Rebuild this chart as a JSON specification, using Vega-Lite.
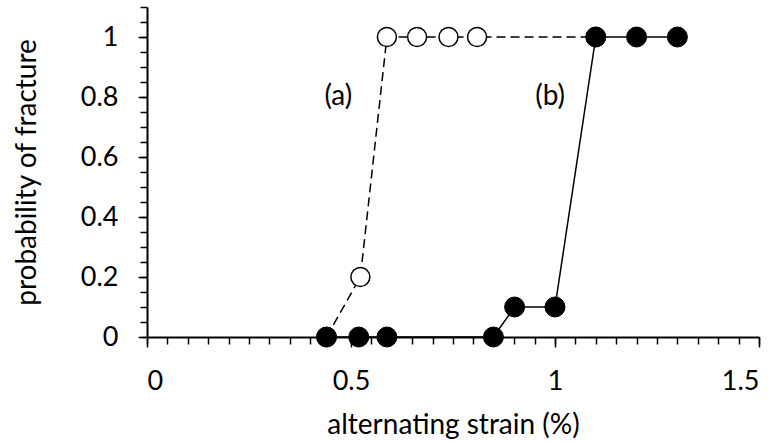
{
  "$schema": "https://vega.github.io/schema/vega-lite/v6.json",
  "autosize": "none",
  "width": 612,
  "height": 330,
  "padding": {"left": 147, "top": 7, "right": 23, "bottom": 105},
  "background": "white",
  "config": {
    "view": {"stroke": null},
    "axis": {
      "grid": false,
      "labelFont": "Lato",
      "labelFontSize": 27,
      "labelColor": "black",
      "titleFont": "Lato",
      "titleFontSize": 28,
      "titleFontWeight": "normal",
      "titleColor": "black",
      "domainColor": "black",
      "tickColor": "black",
      "domainWidth": 2,
      "tickWidth": 1.5
    }
  },
  "datasets": {
    "pts": [
      {"strain": 0.44, "prob": 0, "series": "a"},
      {"strain": 0.523, "prob": 0.2, "series": "a"},
      {"strain": 0.588, "prob": 1, "series": "a"},
      {"strain": 0.662, "prob": 1, "series": "a"},
      {"strain": 0.739, "prob": 1, "series": "a"},
      {"strain": 0.809, "prob": 1, "series": "a"},
      {"strain": 1.1, "prob": 1, "series": "a"},
      {"strain": 0.44, "prob": 0, "series": "b"},
      {"strain": 0.519, "prob": 0, "series": "b"},
      {"strain": 0.588, "prob": 0, "series": "b"},
      {"strain": 0.849, "prob": 0, "series": "b"},
      {"strain": 0.901, "prob": 0.1, "series": "b"},
      {"strain": 1.0, "prob": 0.1, "series": "b"},
      {"strain": 1.1, "prob": 1, "series": "b"},
      {"strain": 1.2, "prob": 1, "series": "b"},
      {"strain": 1.3, "prob": 1, "series": "b"}
    ],
    "labels": [
      {"strain": 0.469, "prob": 0.8, "label": "(a)"},
      {"strain": 0.988, "prob": 0.8, "label": "(b)"}
    ]
  },
  "layer": [
    {
      "data": {"name": "pts"},
      "transform": [{"filter": "datum.series === 'a'"}],
      "mark": {"type": "line", "color": "black", "strokeWidth": 1.5, "strokeDash": [9, 5]},
      "encoding": {
        "x": {"field": "strain", "type": "quantitative",
              "scale": {"domain": [0, 1.5], "nice": false, "zero": false},
              "axis": {"orient": "bottom", "values": [0,0.05,0.1,0.15,0.2,0.25,0.3,0.35,0.4,0.45,0.5,0.55,0.6,0.65,0.7,0.75,0.8,0.85,0.9,0.95,1,1.05,1.1,1.15,1.2,1.25,1.3,1.35,1.4,1.45,1.5],
                       "labels": false, "title": null, "tickSize": 7, "domain": true}},
        "y": {"field": "prob", "type": "quantitative",
              "scale": {"domain": [0, 1.1], "nice": false, "zero": false},
              "axis": {"orient": "left", "values": [0,0.05,0.1,0.15,0.2,0.25,0.3,0.35,0.4,0.45,0.5,0.55,0.6,0.65,0.7,0.75,0.8,0.85,0.9,0.95,1,1.05,1.1],
                       "labels": false, "title": null, "tickSize": 7, "domain": true}}
      }
    },
    {
      "data": {"name": "pts"},
      "transform": [{"filter": "datum.series === 'b'"}],
      "mark": {"type": "line", "color": "black", "strokeWidth": 1.5},
      "encoding": {
        "x": {"field": "strain", "type": "quantitative",
              "axis": {"orient": "bottom", "values": [0, 0.5, 1, 1.5], "format": "~g",
                       "tickSize": 10, "labelPadding": 21, "domain": false,
                       "title": "alternating strain (%)", "titleY": 88, "titleBaseline": "middle", "titleX": 306}},
        "y": {"field": "prob", "type": "quantitative",
              "axis": {"orient": "left", "values": [0, 0.2, 0.4, 0.6, 0.8, 1], "format": "~g",
                       "tickSize": 9, "labelPadding": 20, "domain": false,
                       "title": "probability of fracture", "titleX": -120, "titleY": 165, "titleBaseline": "middle"}}
      }
    },
    {
      "data": {"name": "pts"},
      "transform": [{"filter": "datum.series === 'a'"}],
      "mark": {"type": "point", "shape": "circle", "filled": true, "fill": "white", "stroke": "black", "strokeWidth": 1.5, "size": 360, "opacity": 1},
      "encoding": {
        "x": {"field": "strain", "type": "quantitative", "axis": null},
        "y": {"field": "prob", "type": "quantitative", "axis": null}
      }
    },
    {
      "data": {"name": "pts"},
      "transform": [{"filter": "datum.series === 'b'"}],
      "mark": {"type": "point", "shape": "circle", "filled": true, "fill": "black", "stroke": "black", "strokeWidth": 1, "size": 400, "opacity": 1},
      "encoding": {
        "x": {"field": "strain", "type": "quantitative", "axis": null},
        "y": {"field": "prob", "type": "quantitative", "axis": null}
      }
    },
    {
      "data": {"name": "labels"},
      "mark": {"type": "text", "font": "Lato", "fontSize": 28, "color": "black", "align": "center", "baseline": "middle"},
      "encoding": {
        "x": {"field": "strain", "type": "quantitative", "axis": null},
        "y": {"field": "prob", "type": "quantitative", "axis": null},
        "text": {"field": "label"}
      }
    }
  ],
  "resolve": {"axis": {"x": "independent", "y": "independent"}}
}
